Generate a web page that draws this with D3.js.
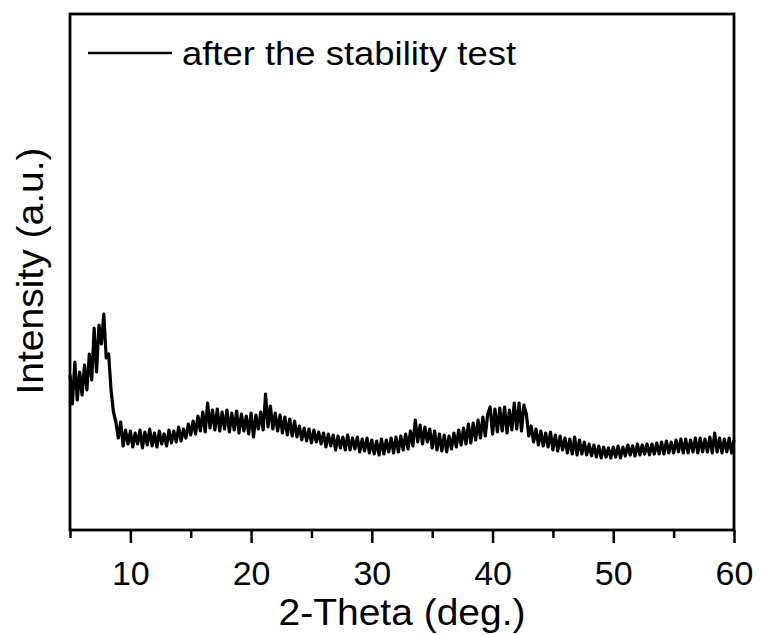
<!DOCTYPE html>
<html>

<head>
    <meta charset="utf-8">
    <title> XRD after stability test </title>
    <!-- Load d3.js -->
    <script src="https://d3js.org/d3.v7.min.js"></script>
</head>
<style>
    body {
        margin: 0;
        background: #fff;
    }

    text {
        font-family: "Liberation Sans", Arial, sans-serif;
        fill: #000;
    }
</style>

<body>
    <div id="my_dataviz"></div>
    <script>

        // 2-theta runs from 5 to 60 deg in steps of 0.2
        var thetaStart = 5, thetaStep = 0.2;

        // intensity (a.u.), one row per degree (.0 .2 .4 .6 .8)
        var intensity = [
            155, 126, 168, 130, 158,
            135, 165, 140, 176, 150,
            202, 158, 205, 186, 216,
            172, 176, 140, 118, 108,
            92, 108, 84, 100, 86,
            99, 83, 97, 86, 100,
            82, 98, 85, 101, 84,
            97, 83, 99, 86, 96,
            84, 100, 87, 99, 88,
            103, 89, 101, 92, 106,
            95, 109, 96, 114, 99,
            118, 98, 127, 102, 120,
            100, 121, 99, 118, 101,
            120, 98, 117, 100, 119,
            97, 116, 99, 114, 96,
            117, 93, 115, 101, 118,
            100, 136, 103, 124, 101,
            117, 99, 115, 97, 113,
            95, 111, 94, 109, 93,
            104, 90, 102, 89, 101,
            87, 100, 88, 98, 86,
            97, 83, 96, 84, 95,
            80, 94, 82, 93, 80,
            95, 80, 92, 81, 93,
            78, 91, 79, 92, 77,
            90, 76, 89, 75, 91,
            76, 90, 78, 92, 77,
            93, 78, 94, 80, 96,
            81, 99, 84, 110, 88,
            105, 86, 103, 88, 101,
            82, 99, 80, 96, 79,
            95, 78, 94, 81, 97,
            83, 100, 85, 102, 86,
            106, 87, 107, 90, 110,
            92, 113, 94, 116, 123,
            96, 121, 98, 122, 99,
            123, 97, 120, 100, 127,
            101, 127, 99, 125, 116,
            94, 104, 88, 101, 85,
            99, 84, 97, 83, 98,
            80, 95, 79, 94, 80,
            92, 77, 91, 76, 93,
            75, 90, 76, 88, 75,
            86, 74, 85, 73, 84,
            72, 83, 73, 82, 72,
            83, 73, 84, 72, 83,
            74, 85, 75, 84, 74,
            86, 75, 85, 76, 86,
            75, 86, 76, 87, 76,
            88, 76, 89, 77, 88,
            77, 90, 78, 91, 77,
            91, 77, 90, 78, 92,
            77, 92, 78, 91, 78,
            93, 77, 97, 78, 92,
            77, 91, 78, 92, 77,
            90
        ];

        var majorTicks = [10, 20, 30, 40, 50, 60];
        var minorTicks = [5, 15, 25, 35, 45, 55];
        var seriesName = "after the stability test";

        var data = intensity.map(function (v, i) {
            return { theta: thetaStart + i * thetaStep, value: v };
        });

        // set the dimensions and margins of the graph
        var margin = { top: 14, right: 27, bottom: 105, left: 70 },
            width = 761 - margin.left - margin.right,
            height = 635 - margin.top - margin.bottom;

        var svg = d3.select("#my_dataviz")
            .append("svg")
            .attr("width", 761)
            .attr("height", 635)
            .append("g")
            .attr("transform", "translate(" + margin.left + "," + margin.top + ")");

        var x = d3.scaleLinear()
            .domain([5, 60])
            .range([0, width]);

        var y = d3.scaleLinear()
            .domain([0, height])
            .range([height, 0]);

        // minor ticks
        svg.append("g")
            .attr("transform", "translate(0," + height + ")")
            .call(d3.axisBottom(x).tickValues(minorTicks).tickSize(8).tickFormat(""))
            .call(function (g) {
                g.select(".domain").remove();
                g.selectAll("line").attr("stroke", "#000").attr("stroke-width", 2.5);
            });

        // major ticks + labels
        svg.append("g")
            .attr("transform", "translate(0," + height + ")")
            .call(d3.axisBottom(x).tickValues(majorTicks).tickSize(13).tickPadding(18).tickFormat(d3.format("d")))
            .call(function (g) {
                g.select(".domain").remove();
                g.selectAll("line").attr("stroke", "#000").attr("stroke-width", 2.5);
                g.selectAll("text")
                    .attr("fill", "#000")
                    .style("font-family", "'Liberation Sans', Arial, sans-serif")
                    .style("font-size", "34px");
            });

        // the pattern
        svg.append("path")
            .datum(data)
            .attr("fill", "none")
            .attr("stroke", "#000")
            .attr("stroke-width", 3.2)
            .attr("stroke-linejoin", "round")
            .attr("d", d3.line()
                .x(function (d) { return x(d.theta) })
                .y(function (d) { return y(d.value) })
            );

        // frame
        svg.append("rect")
            .attr("x", 0)
            .attr("y", 0)
            .attr("width", width)
            .attr("height", height)
            .attr("fill", "none")
            .attr("stroke", "#000")
            .attr("stroke-width", 2.8);

        // axis titles
        svg.append("text")
            .attr("x", width / 2)
            .attr("y", height + 95)
            .attr("text-anchor", "middle")
            .attr("textLength", 247)
            .attr("lengthAdjust", "spacingAndGlyphs")
            .style("font-size", "37px")
            .text("2-Theta (deg.)");

        svg.append("text")
            .attr("transform", "translate(-27," + (height / 2 - 1) + ")rotate(-90)")
            .attr("text-anchor", "middle")
            .attr("textLength", 247)
            .attr("lengthAdjust", "spacingAndGlyphs")
            .style("font-size", "37px")
            .text("Intensity (a.u.)");

        // legend
        var legend = svg.append("g")
            .attr("transform", "translate(18,39)");
        legend.append("line")
            .attr("x1", 0)
            .attr("x2", 84)
            .attr("stroke", "#000")
            .attr("stroke-width", 2.6);
        legend.append("text")
            .attr("x", 94)
            .attr("y", 12)
            .attr("textLength", 334)
            .attr("lengthAdjust", "spacingAndGlyphs")
            .style("font-size", "34px")
            .text(seriesName);

    </script>
</body>

</html>
